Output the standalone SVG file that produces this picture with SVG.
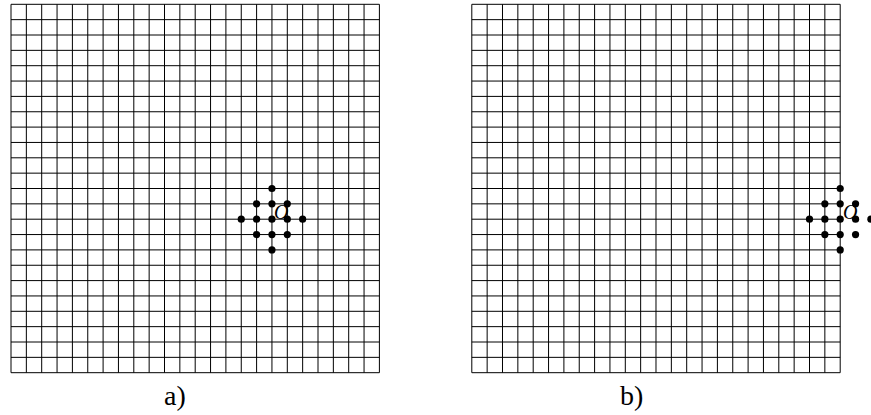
<svg xmlns="http://www.w3.org/2000/svg" xmlns:xlink="http://www.w3.org/1999/xlink" width="871" height="415" viewBox="0 0 871 415">
<style>
.grid{fill:none;stroke:#000;stroke-width:1}
.dot{fill:#000}
.lbl{font-family:"Liberation Serif",serif;font-size:28px;fill:#000}
.o{font-family:"Liberation Serif",serif;font-style:italic;font-size:20px;fill:#000}
</style>
<defs>
<path id="g" class="grid" d="M0 0V368.4M15.35 0V368.4M30.7 0V368.4M46.05 0V368.4M61.4 0V368.4M76.75 0V368.4M92.1 0V368.4M107.45 0V368.4M122.8 0V368.4M138.15 0V368.4M153.5 0V368.4M168.85 0V368.4M184.2 0V368.4M199.55 0V368.4M214.9 0V368.4M230.25 0V368.4M245.6 0V368.4M260.95 0V368.4M276.3 0V368.4M291.65 0V368.4M307 0V368.4M322.35 0V368.4M337.7 0V368.4M353.05 0V368.4M368.4 0V368.4M0 0H368.4M0 15.35H368.4M0 30.7H368.4M0 46.05H368.4M0 61.4H368.4M0 76.75H368.4M0 92.1H368.4M0 107.45H368.4M0 122.8H368.4M0 138.15H368.4M0 153.5H368.4M0 168.85H368.4M0 184.2H368.4M0 199.55H368.4M0 214.9H368.4M0 230.25H368.4M0 245.6H368.4M0 260.95H368.4M0 276.3H368.4M0 291.65H368.4M0 307H368.4M0 322.35H368.4M0 337.7H368.4M0 353.05H368.4M0 368.4H368.4"/>
<g id="diamond">
<circle class="dot" cx="0" cy="-30.7" r="3.6"/>
<circle class="dot" cx="-15.35" cy="-15.35" r="3.6"/>
<circle class="dot" cx="0" cy="-15.35" r="3.6"/>
<circle class="dot" cx="15.35" cy="-15.35" r="3.6"/>
<circle class="dot" cx="-30.7" cy="0" r="3.6"/>
<circle class="dot" cx="-15.35" cy="0" r="3.6"/>
<circle class="dot" cx="0" cy="0" r="3.6"/>
<circle class="dot" cx="15.35" cy="0" r="3.6"/>
<circle class="dot" cx="30.7" cy="0" r="3.6"/>
<circle class="dot" cx="-15.35" cy="15.35" r="3.6"/>
<circle class="dot" cx="0" cy="15.35" r="3.6"/>
<circle class="dot" cx="15.35" cy="15.35" r="3.6"/>
<circle class="dot" cx="0" cy="30.7" r="3.6"/>
</g>
</defs>
<rect width="871" height="415" fill="#fff"/>
<g id="panel-a">
<use xlink:href="#g" transform="translate(11,4.3)"/>
<use xlink:href="#diamond" transform="translate(271.95,219.2)"/>
<text class="o" x="274" y="218.5">O</text>
<text class="lbl" x="164" y="405">a)</text>
</g>
<g id="panel-b">
<use xlink:href="#g" transform="translate(471.8,4.3)"/>
<use xlink:href="#diamond" transform="translate(840.2,219.2)"/>
<text class="o" x="843" y="218.5">O</text>
<text class="lbl" x="620" y="405">b)</text>
</g>
</svg>
